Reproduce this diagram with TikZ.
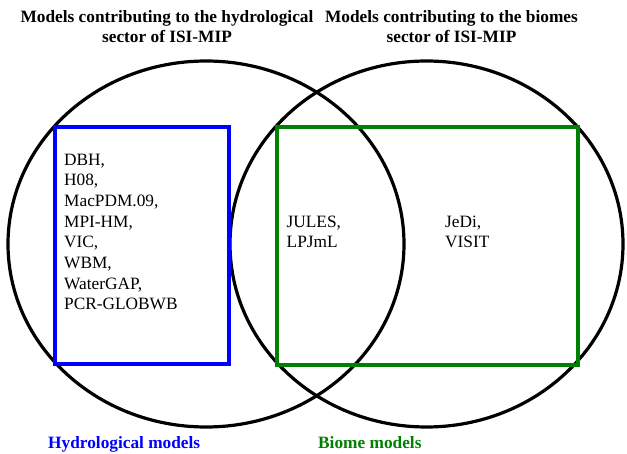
\documentclass[tikz,border=0pt]{standalone}
\usepackage{fontspec}
\setmainfont{Liberation Serif}
\definecolor{bgreen}{RGB}{0,128,0}
\definecolor{bblue}{RGB}{0,0,255}
\begin{document}
\begin{tikzpicture}[x=1pt,y=-1pt,
  ring/.style={line width=3.2pt, draw=black},
  box/.style={line width=3.8pt},
  body/.style={font=\fontsize{17.3}{20.7}\selectfont, align=left, anchor=base west, inner sep=0pt},
  title/.style={font=\fontsize{17.3}{20}\selectfont\bfseries, align=center, anchor=base, inner sep=0pt},
  lab/.style={font=\fontsize{17.3}{20}\selectfont\bfseries, anchor=base west, inner sep=0pt}]
\useasboundingbox (0,0) rectangle (627,454);
% circles
\draw[ring] (206,244) ellipse [x radius=198, y radius=183];
\draw[ring] (426.5,244) ellipse [x radius=196.5, y radius=183];
% boxes
\draw[box, draw=bblue] (55.3,127) rectangle (228.7,364);
\draw[box, draw=bgreen] (277.3,127) rectangle (578.3,365);
% titles (anchor base = last line)
\node[title] (t1) at (167,43) {Models contributing to the hydrological\\sector of ISI-MIP};
\node[title] (t2) at (451.5,43) {Models contributing to the biomes\\sector of ISI-MIP};
% model lists (anchor base = last line)
\node[body] (hyd) at (64,310) {DBH,\\H08,\\MacPDM.09,\\MPI-HM,\\VIC,\\WBM,\\WaterGAP,\\PCR-GLOBWB};
\node[body] (both) at (286.5,248) {JULES,\\LPJmL};
\node[body] (bio) at (445,248) {JeDi,\\VISIT};
% labels
\node[lab, text=bblue] (lh) at (48,449) {Hydrological models};
\node[lab, text=bgreen] (lb) at (318,449) {Biome models};
\end{tikzpicture}
\end{document}
